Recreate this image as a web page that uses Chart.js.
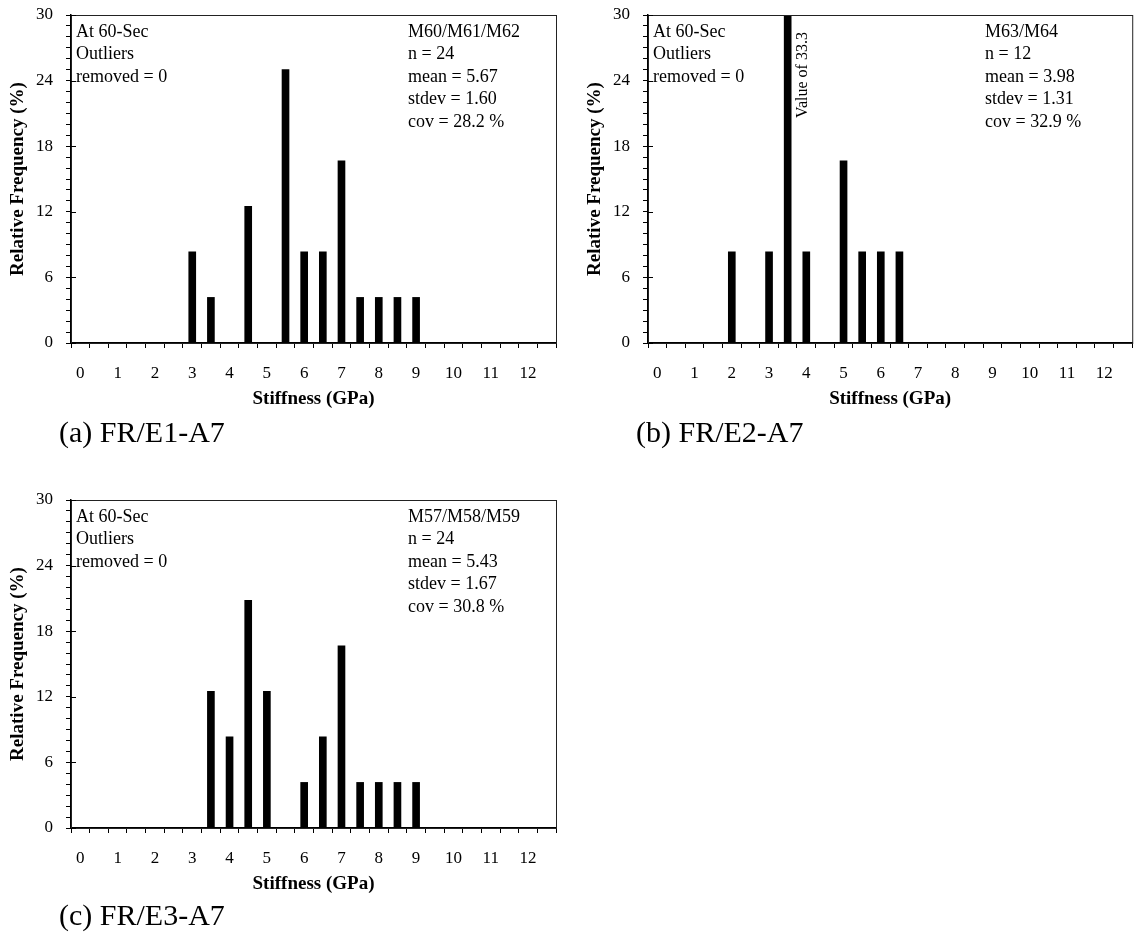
<!DOCTYPE html>
<html>
<head>
<meta charset="utf-8">
<title>Stiffness histograms</title>
<script src="https://cdn.jsdelivr.net/npm/chart.js@4.4.1/dist/chart.umd.min.js"></script>
<style>
  body { margin: 0; background: #fff; width: 1138px; height: 932px; overflow: hidden; position: relative; }
  canvas { position: absolute; }
  .caption { position: absolute; font: 30px 'Times New Roman', 'Liberation Serif', serif; line-height: 30px; color: #000; white-space: nowrap; }
</style>
</head>
<body>
<canvas id="chart-a" width="562" height="420" style="left:0;top:0"></canvas>
<canvas id="chart-b" width="561" height="420" style="left:577px;top:0"></canvas>
<canvas id="chart-c" width="562" height="420" style="left:0;top:485px"></canvas>
<div class="caption" style="left:59px;top:417px">(a) FR/E1-A7</div>
<div class="caption" style="left:636px;top:417px">(b) FR/E2-A7</div>
<div class="caption" style="left:59px;top:900px">(c) FR/E3-A7</div>

<script>
'use strict';

// bins (GPa), every 0.5
const stiffnessBins = [0, 0.5, 1, 1.5, 2, 2.5, 3, 3.5, 4, 4.5, 5, 5.5, 6, 6.5, 7, 7.5, 8, 8.5, 9, 9.5, 10, 10.5, 11, 11.5, 12, 12.5];
const xTickLabels = [0, 1, 2, 3, 4, 5, 6, 7, 8, 9, 10, 11, 12];
const yTickLabels = [0, 6, 12, 18, 24, 30];

// relative frequency (%) per bin
const freqE1 = [0, 0, 0, 0, 0, 0, 8.33, 4.17, 0, 12.5, 0, 25, 8.33, 8.33, 16.67, 4.17, 4.17, 4.17, 4.17, 0, 0, 0, 0, 0, 0, 0];
const freqE2 = [0, 0, 0, 0, 8.33, 0, 8.33, 33.33, 8.33, 0, 16.67, 8.33, 8.33, 8.33, 0, 0, 0, 0, 0, 0, 0, 0, 0, 0, 0, 0];
const freqE3 = [0, 0, 0, 0, 0, 0, 0, 12.5, 8.33, 20.83, 12.5, 0, 4.17, 8.33, 16.67, 4.17, 4.17, 4.17, 4.17, 0, 0, 0, 0, 0, 0, 0];

const noteLeft = ['At 60-Sec', 'Outliers', 'removed = 0'];
const statsE1 = ['M60/M61/M62', 'n = 24', 'mean = 5.67', 'stdev = 1.60', 'cov = 28.2 %'];
const statsE2 = ['M63/M64', 'n = 12', 'mean = 3.98', 'stdev = 1.31', 'cov = 32.9 %'];
const statsE3 = ['M57/M58/M59', 'n = 24', 'mean = 5.43', 'stdev = 1.67', 'cov = 30.8 %'];

const serif = "'Times New Roman', 'Liberation Serif', serif";
const tickFont = { family: serif, size: 17 };
const titleFont = { family: serif, size: 19, weight: 'bold' };
const Y_MAX = 30;

// frame, inner half of the major y ticks, and the text notes
const notesPlugin = {
  id: 'notes',
  afterDatasetsDraw(chart, args, opts) {
    const { ctx, chartArea: a, scales } = chart;
    ctx.save();
    ctx.strokeStyle = '#222';
    ctx.lineWidth = 1;
    ctx.strokeRect(a.left + 0.5, a.top + 0.5, a.width, a.height);

    ctx.strokeStyle = '#000';
    ctx.beginPath();
    yTickLabels.forEach(v => {
      const y = Math.round(scales.y.getPixelForValue(v)) + 0.5;
      ctx.moveTo(a.left, y);
      ctx.lineTo(a.left + 5, y);
    });
    ctx.stroke();

    ctx.fillStyle = '#000';
    ctx.font = '18px ' + serif;
    ctx.textBaseline = 'middle';
    ctx.textAlign = 'left';
    noteLeft.forEach((t, i) => ctx.fillText(t, a.left + 5, a.top + 17 + 22.5 * i));
    opts.stats.forEach((t, i) => ctx.fillText(t, a.left + 337, a.top + 17 + 22.5 * i));

    // bars taller than the axis get their value written beside them
    const values = chart.data.datasets[0].data;
    values.forEach((v, i) => {
      if (v <= Y_MAX) return;
      const x = scales.x.getPixelForValue(stiffnessBins[i]) + 15;
      ctx.save();
      ctx.translate(x, a.top + 60);
      ctx.rotate(-Math.PI / 2);
      ctx.font = '16px ' + serif;
      ctx.textAlign = 'center';
      ctx.fillText('Value of ' + v.toFixed(1), 0, 0);
      ctx.restore();
    });
    ctx.restore();
  }
};

function makeHistogram(canvasId, freq, stats, padRight) {
  return new Chart(document.getElementById(canvasId), {
    type: 'bar',
    data: {
      labels: stiffnessBins,
      datasets: [{
        data: freq,
        backgroundColor: '#000',
        borderWidth: 0,
        barThickness: 7
      }]
    },
    options: {
      responsive: false,
      animation: false,
      layout: { padding: { top: 15, right: padRight, left: 0, bottom: 0 } },
      plugins: {
        legend: { display: false },
        tooltip: { enabled: false },
        notes: { stats: stats }
      },
      scales: {
        x: {
          type: 'linear',
          min: -0.25,
          max: 12.75,
          offset: false,
          afterBuildTicks: (scale) => { scale.ticks = stiffnessBins.map(v => ({ value: v })); },
          afterFit: (scale) => { scale.height = 77; },
          ticks: {
            autoSkip: false,
            maxRotation: 0,
            padding: 15,
            color: '#000',
            font: tickFont,
            callback: (v) => xTickLabels.includes(v) ? String(v) : ''
          },
          grid: { offset: true, drawOnChartArea: false, tickLength: 5, color: '#000' },
          border: { color: '#000', width: 1.5 },
          title: { display: true, text: 'Stiffness (GPa)', color: '#000', font: titleFont, padding: { top: 0, bottom: 9.6 } }
        },
        y: {
          min: 0,
          max: Y_MAX,
          afterFit: (scale) => {
            // fixed axis width, and no extra room above the top label
            scale.width = 71;
            scale.paddingTop = 0;
            scale.paddingBottom = 0;
          },
          ticks: {
            stepSize: 1,
            autoSkip: false,
            padding: 13,
            color: '#000',
            font: tickFont,
            callback: (v) => yTickLabels.includes(v) ? String(v) : ''
          },
          grid: { drawOnChartArea: false, tickLength: 5, color: '#000' },
          border: { color: '#000', width: 1.5 },
          title: { display: true, text: 'Relative Frequency (%)', color: '#000', font: titleFont, padding: { top: 6.6, bottom: 0 } }
        }
      }
    },
    plugins: [notesPlugin]
  });
}

makeHistogram('chart-a', freqE1, statsE1, 6);
makeHistogram('chart-b', freqE2, statsE2, 5);
makeHistogram('chart-c', freqE3, statsE3, 6);
</script>
</body>
</html>
